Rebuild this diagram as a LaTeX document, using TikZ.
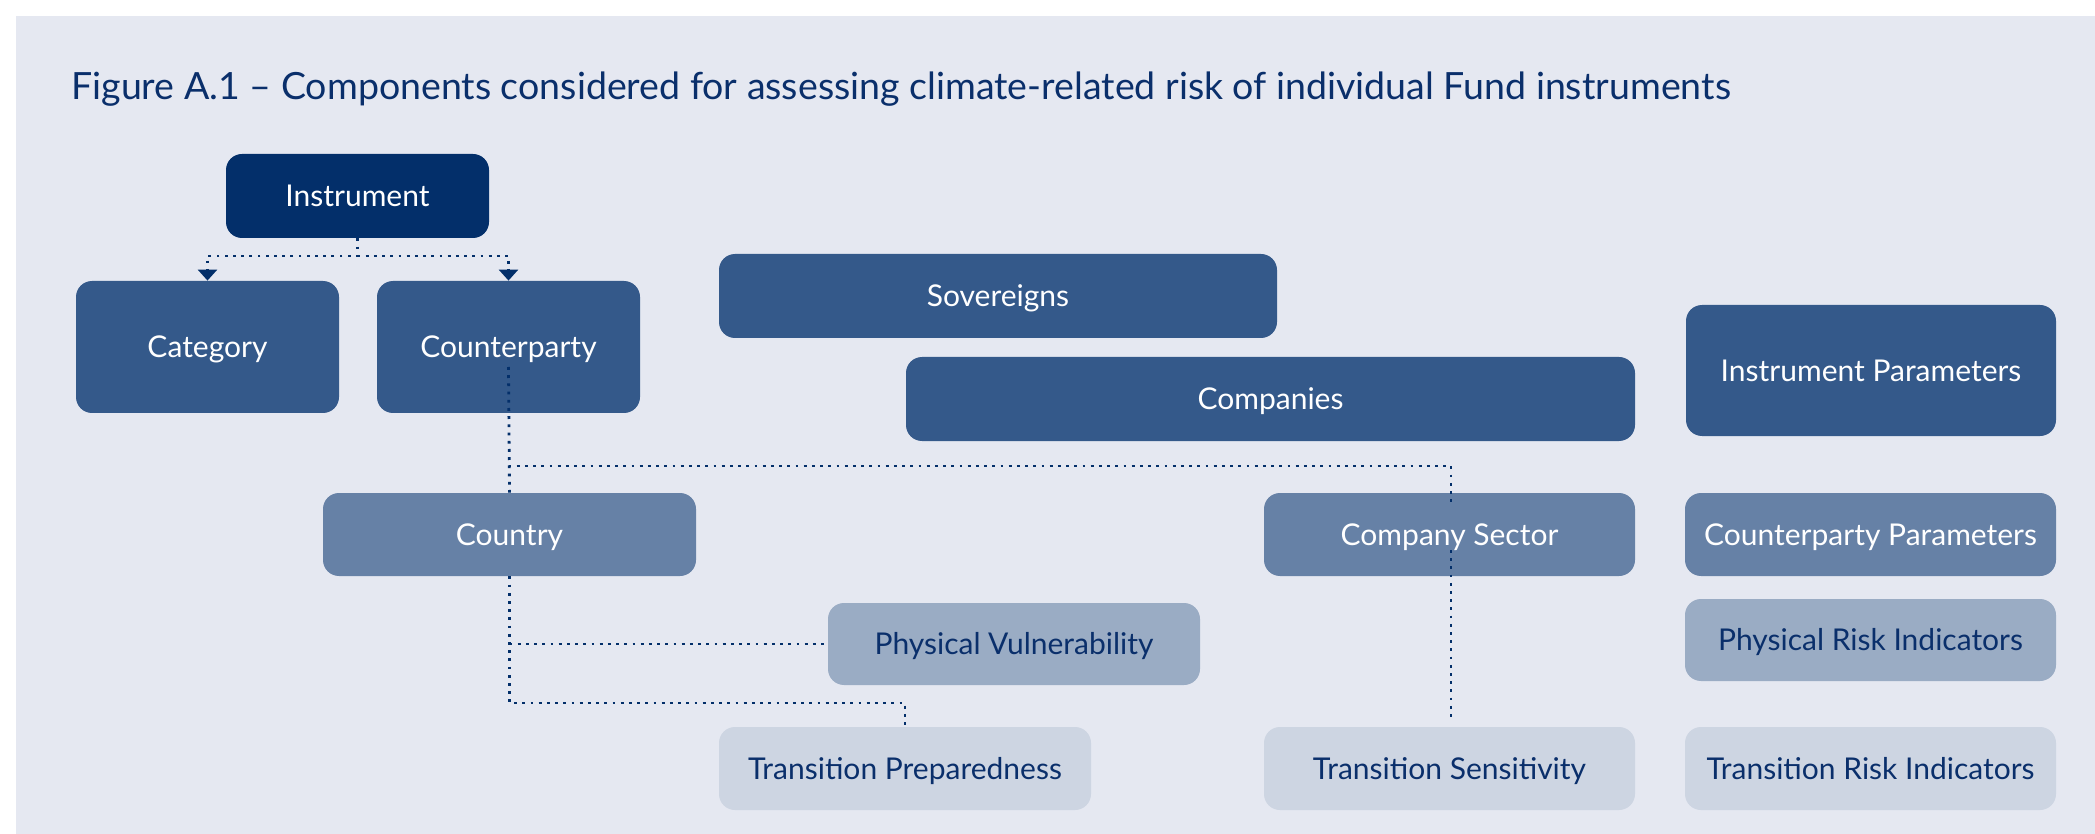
\documentclass[tikz,border=0pt]{standalone}
\usepackage{fontspec}
\setmainfont{Lato}
\usetikzlibrary{arrows.meta,calc}
\definecolor{panel}{HTML}{E5E8F1}
\definecolor{navy}{HTML}{032F6A}
\definecolor{dark}{HTML}{34598A}
\definecolor{mid}{HTML}{6681A6}
\definecolor{light}{HTML}{9AACC4}
\definecolor{pale}{HTML}{CDD5E2}
\definecolor{ink}{HTML}{0A2F6B}
\tikzset{
  box/.style={rounded corners=8pt, inner sep=0pt, align=center, text height=10.8pt, text depth=0pt, font=\fontsize{15}{18}\selectfont},
  navybox/.style={box, fill=navy, text=white},
  darkbox/.style={box, fill=dark, text=white},
  midbox/.style={box, fill=mid, text=white},
  lightbox/.style={box, fill=light, text=ink},
  palebox/.style={box, fill=pale, text=ink},
  dotline/.style={draw=navy, line width=1.4pt, dash pattern=on 1.4pt off 2.7pt},
  tip/.style={-{Triangle[width=9.5pt,length=5.5pt]}}
}
\begin{document}
\begin{tikzpicture}[x=0.5pt,y=-0.5pt]
\useasboundingbox (0,0) rectangle (2095,834);
\fill[white] (0,0) rectangle (2095,834);
\fill[panel] (16,16) rectangle (2095,834);

\node[anchor=base west, inner sep=0pt, text=ink, font=\fontsize{18.75}{22}\selectfont] (title) at (71,100)
  {Figure A.1 – Components considered for assessing climate-related risk of individual Fund instruments};

\node[navybox, minimum width=131.5pt, minimum height=42pt] (instr) at (357.5,196) {Instrument};
\node[darkbox, minimum width=131.5pt, minimum height=66pt] (cat) at (207.5,347) {Category};
\node[darkbox, minimum width=131.5pt, minimum height=66pt] (cpty) at (508.5,347) {Counterparty};
\node[darkbox, minimum width=279pt, minimum height=42pt] (sov) at (998,296) {Sovereigns};
\node[darkbox, minimum width=364.5pt, minimum height=42pt] (comp) at (1270.5,399) {Companies};
\node[darkbox, minimum width=185pt, minimum height=65.5pt] (iparam) at (1871,370.5) {Instrument Parameters};

\node[midbox, minimum width=186.5pt, minimum height=41.5pt] (country) at (509.5,534.5) {Country};
\node[midbox, minimum width=185.5pt, minimum height=41.5pt] (csect) at (1449.5,534.5) {Company Sector};
\node[midbox, minimum width=185.5pt, minimum height=41.5pt] (cparam) at (1870.5,534.5) {Counterparty Parameters};

\node[lightbox, minimum width=186pt, minimum height=41pt] (pv) at (1014,644) {Physical Vulnerability};
\node[lightbox, minimum width=185.5pt, minimum height=41pt] (pri) at (1870.5,640) {Physical Risk Indicators};

\node[palebox, minimum width=186pt, minimum height=41.5pt] (tp) at (905,768.5) {Transition Preparedness};
\node[palebox, minimum width=185.5pt, minimum height=41.5pt] (ts) at (1449.5,768.5) {Transition Sensitivity};
\node[palebox, minimum width=185.5pt, minimum height=41.5pt] (tri) at (1870.5,768.5) {Transition Risk Indicators};

% connectors
\coordinate (j1) at (357.5,256);
\draw[dotline, tip] (instr.south) -- (j1) -| (cat.north);
\draw[dotline, tip] (j1) -| (cpty.north);

\coordinate (cpstart) at ($(cpty.center)+(0,20)$);
\coordinate (j2) at (508.5,466);
\coordinate (csin) at (1451,502);
\coordinate (csout) at (1451,550);
\coordinate (tstop) at (1451,717);
\draw[dotline] (cpstart) -- (country.north);
\draw[dotline] (j2) -| (csin);
\draw[dotline] (csout) -- (tstop);

\coordinate (j3) at (509.5,703);
\draw[dotline] (country.south) -- (j3) -| (tp.north);
\draw[dotline] (country.south |- pv.west) -- (pv.west);
\end{tikzpicture}
\end{document}
